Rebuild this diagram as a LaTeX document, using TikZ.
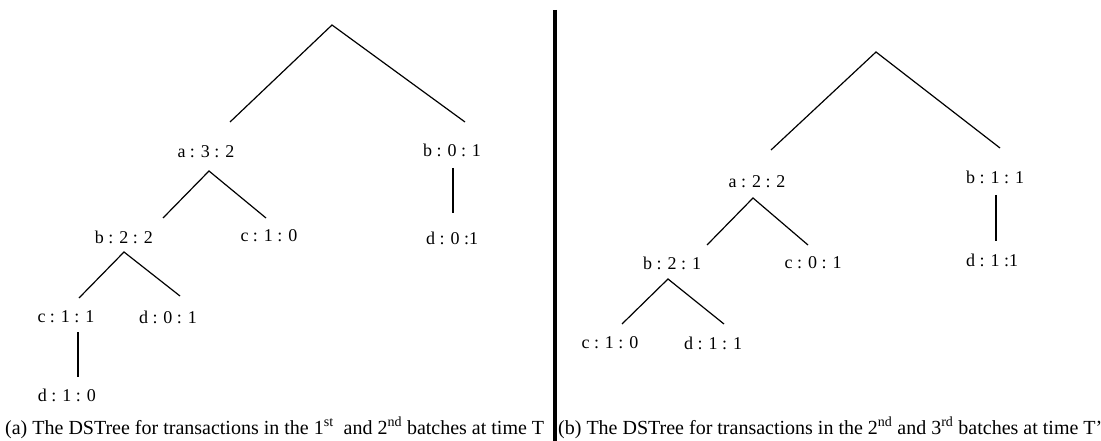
\documentclass[tikz,border=0pt]{standalone}
\usepackage{fontspec}
\setmainfont{Liberation Serif}
\usetikzlibrary{calc}
\begin{document}
\begin{tikzpicture}[x=1pt,y=-1pt,
  lbl/.style={inner sep=0pt,font=\fontsize{18}{21}\selectfont},
  captext/.style={inner sep=0pt,anchor=west,font=\fontsize{20}{23}\selectfont},
  edge/.style={draw=black,line width=1.2pt},
  divider/.style={draw=black,line width=3.5pt}]
\useasboundingbox (0,0) rectangle (1101,441);
% ---------- left tree ----------
\coordinate (R1) at (332,25);
\node[lbl] (a1) at (206,152) {a : 3 : 2};
\node[lbl] (b1) at (452,150) {b : 0 : 1};
\node[lbl] (bb1) at (124,237) {b : 2 : 2};
\node[lbl] (c1) at (269,236) {c : 1 : 0};
\node[lbl] (d1) at (452,238) {d : 0 :1};
\node[lbl] (cc1) at (66,317) {c : 1 : 1};
\node[lbl] (dd1) at (168,317) {d : 0 : 1};
\node[lbl] (ddd1) at (67,395) {d : 1 : 0};
\draw[edge] ($(a1)+(24,-30)$) -- (R1) -- ($(b1)+(13,-28)$);
\draw[edge] ($(bb1)+(39,-19)$) -- ($(a1)+(3,19)$) -- ($(c1)+(-3,-18)$);
\draw[edge] ($(b1)+(1,18)$) -- ($(d1)+(1,-25)$);
\draw[edge] ($(cc1)+(13,-19)$) -- ($(bb1)+(0,15)$) -- ($(dd1)+(12,-21)$);
\draw[edge] ($(cc1)+(12,15)$) -- ($(ddd1)+(11,-18)$);
\node[captext] (capa) at (5,428) {(a) The DSTree for transactions in the 1\textsuperscript{st}\ \ and 2\textsuperscript{nd} batches at time T};
% ---------- divider ----------
\coordinate (divtop) at (555,10);
\coordinate (divbot) at (555,441);
\draw[divider] (divtop) -- (divbot);
% ---------- right tree ----------
\coordinate (R2) at (876,52);
\node[lbl] (a2) at (757,182) {a : 2 : 2};
\node[lbl] (b2) at (995,177) {b : 1 : 1};
\node[lbl] (bb2) at (672,263) {b : 2 : 1};
\node[lbl] (c2) at (813,263) {c : 0 : 1};
\node[lbl] (d2) at (992,260) {d : 1 :1};
\node[lbl] (cc2) at (610,343) {c : 1 : 0};
\node[lbl] (dd2) at (713,343) {d : 1 : 1};
\draw[edge] ($(a2)+(14,-32)$) -- (R2) -- ($(b2)+(5,-29)$);
\draw[edge] ($(bb2)+(35,-18)$) -- ($(a2)+(-4,16)$) -- ($(c2)+(-5,-18)$);
\draw[edge] ($(b2)+(1,18)$) -- ($(d2)+(4,-19)$);
\draw[edge] ($(cc2)+(12,-19)$) -- ($(bb2)+(-4,16)$) -- ($(dd2)+(11,-19)$);
\node[captext] (capb) at (558,428) {(b) The DSTree for transactions in the 2\textsuperscript{nd} and 3\textsuperscript{rd} batches at time T’};
\end{tikzpicture}
\end{document}
